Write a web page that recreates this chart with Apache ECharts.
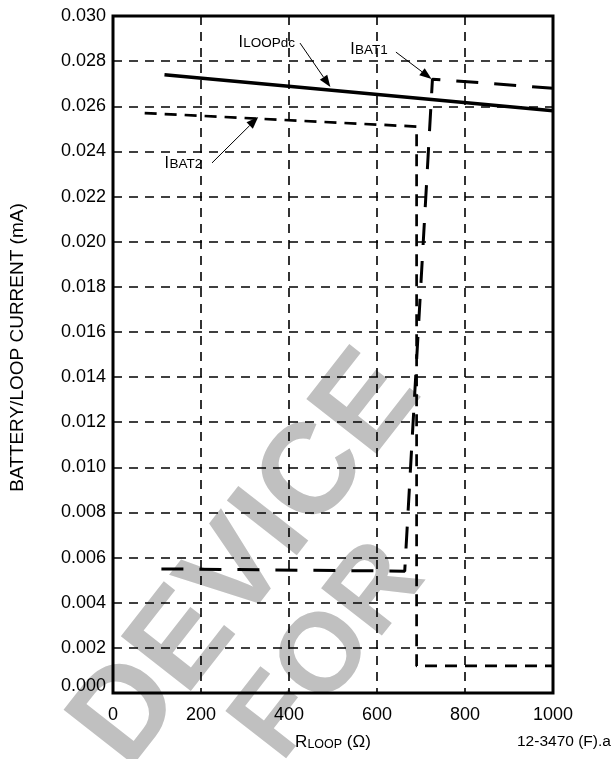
<!DOCTYPE html>
<html><head><meta charset="utf-8">
<script src="https://cdn.jsdelivr.net/npm/echarts@6/dist/echarts.min.js"></script>
<style>html,body{margin:0;padding:0;background:#fff}#c{width:612px;height:759px}</style>
</head><body><div id="c"></div>
<script>
// ---- data ----
const xTicks = [0, 200, 400, 600, 800, 1000];
const yTicks = [0.000,0.002,0.004,0.006,0.008,0.010,0.012,0.014,0.016,0.018,0.020,0.022,0.024,0.026,0.028,0.030];
const iLoopDc = [[117, 0.0274], [1000, 0.0258]];
const iBat1 = [[110, 0.0055], [663, 0.0054], [726, 0.0272], [1000, 0.0268]];
const iBat2 = [[72, 0.0257], [690, 0.0251], [690, 0.0012], [1000, 0.0012]];
// annotation anchors in data coordinates: [label left/baseline, arrow start, arrow tip]
const notes = [
  {main: 'I', sub: 'LOOPdc', at: [285, 0.02857], from: [425, 0.02880], to: [494, 0.02685]},
  {main: 'I', sub: 'BAT1', at: [539, 0.02827], from: [643, 0.02840], to: [724, 0.02721]},
  {main: 'I', sub: 'BAT2', at: [117, 0.02322], from: [225, 0.02349], to: [330, 0.02552]}
];

const FONT = 'Liberation Sans, Arial, Helvetica, sans-serif';
const chart = echarts.init(document.getElementById('c'), null, {renderer: 'canvas'});
const opt = {
  backgroundColor: '#fff',
  animation: false,
  grid: {left: 108, right: 59, top: 16, bottom: 66, show: true, borderColor: '#000', borderWidth: 3, backgroundColor: 'transparent', z: 3},
  xAxis: {
    type: 'value', min: xTicks[0], max: xTicks[xTicks.length - 1], interval: 200,
    axisLine: {show: false}, axisTick: {show: false},
    axisLabel: {color: '#000', fontSize: 18, fontFamily: FONT, margin: 13, formatter: v => String(v)},
    splitLine: {show: true, lineStyle: {color: '#000', width: 1.6, type: [9, 7]}},
    name: '{a|R}{b|LOOP}{a| (Ω)}', nameLocation: 'middle', nameGap: 40,
    nameTextStyle: {fontFamily: FONT, color: '#000', rich: {
      a: {fontSize: 17, fontFamily: FONT, color: '#000', verticalAlign: 'bottom', lineHeight: 18},
      b: {fontSize: 12.5, fontFamily: FONT, color: '#000', verticalAlign: 'bottom', lineHeight: 16}
    }}
  },
  yAxis: {
    type: 'value', min: yTicks[0], max: yTicks[yTicks.length - 1], interval: 0.002,
    axisLine: {show: false}, axisTick: {show: false},
    axisLabel: {color: '#000', fontSize: 18, fontFamily: FONT, margin: 7,
      formatter: v => (v === 0 ? '{z|' + v.toFixed(3) + '}' : v.toFixed(3)),
      rich: {z: {fontSize: 18, fontFamily: FONT, color: '#000', padding: [0, 0, 14, 0]}}},
    splitLine: {show: true, lineStyle: {color: '#000', width: 1.6, type: [9, 7]}},
    name: 'BATTERY/LOOP CURRENT (mA)', nameLocation: 'middle', nameRotate: 90, nameGap: 86,
    nameTextStyle: {fontSize: 19, fontFamily: FONT, color: '#000', padding: [0, 0, 0, 14]}
  },
  series: [
    {name: 'ILOOPdc', type: 'line', data: iLoopDc, symbol: 'none', lineStyle: {color: '#000', width: 3.5}, z: 5},
    {name: 'IBAT1', type: 'line', data: iBat1, symbol: 'none', lineStyle: {color: '#000', width: 3, type: [22, 16]}, z: 5},
    {name: 'IBAT2', type: 'line', data: iBat2, symbol: 'none', lineStyle: {color: '#000', width: 2.7, type: [12, 8]}, z: 5}
  ]
};
chart.setOption(opt);

const px = p => chart.convertToPixel({gridIndex: 0}, p);
const ctx = document.createElement('canvas').getContext('2d');
const measure = (t, f) => { ctx.font = f; return ctx.measureText(t).width; };
const els = [];
const ang = 52 * Math.PI / 180;
els.push({type: 'text', x: 248, y: 560, rotation: ang, z: -10,
  style: {text: 'DEVICE', fill: '#c0c0c0', font: 'bold 129px ' + FONT, align: 'center', verticalAlign: 'middle'}});
els.push({type: 'text', x: 330, y: 652, rotation: ang, z: -10,
  style: {text: 'FOR', fill: '#c0c0c0', font: 'bold 112px ' + FONT, align: 'center', verticalAlign: 'middle'}});
const annot = [];
const MF = 16, SF = 13.5;
notes.forEach(n => {
  const t = px(n.at), a = px(n.from), b = px(n.to);
  const mFont = MF + 'px ' + FONT, sFont = SF + 'px ' + FONT;
  const w = measure(n.main, mFont);
  annot.push({type: 'text', x: t[0], y: t[1] - 0.36 * MF, z: 20,
    style: {text: n.main, font: mFont, fill: '#000', align: 'left', verticalAlign: 'middle'}});
  annot.push({type: 'text', x: t[0] + w + 0.5, y: t[1] - 0.36 * SF, z: 20,
    style: {text: n.sub, font: sFont, fill: '#000', align: 'left', verticalAlign: 'middle'}});
  const dx = b[0] - a[0], dy = b[1] - a[1], L = Math.hypot(dx, dy), ux = dx / L, uy = dy / L;
  const hl = 12, hw = 4.5;
  const bx = b[0] - ux * hl, by = b[1] - uy * hl;
  annot.push({type: 'line', z: 20, shape: {x1: a[0], y1: a[1], x2: bx, y2: by}, style: {stroke: '#000', lineWidth: 1}});
  annot.push({type: 'polygon', z: 20, shape: {points: [[b[0], b[1]], [bx - uy * hw, by + ux * hw], [bx + uy * hw, by - ux * hw]]}, style: {fill: '#000'}});
});
annot.push({type: 'text', x: 517, y: 742, z: 20, style: {text: '12-3470 (F).a', font: '15.5px ' + FONT, fill: '#000', align: 'left', verticalAlign: 'middle'}});
chart.setOption({graphic: [
  {type: 'group', z: -10, children: els},
  {type: 'group', children: annot}
]});
</script></body></html>
